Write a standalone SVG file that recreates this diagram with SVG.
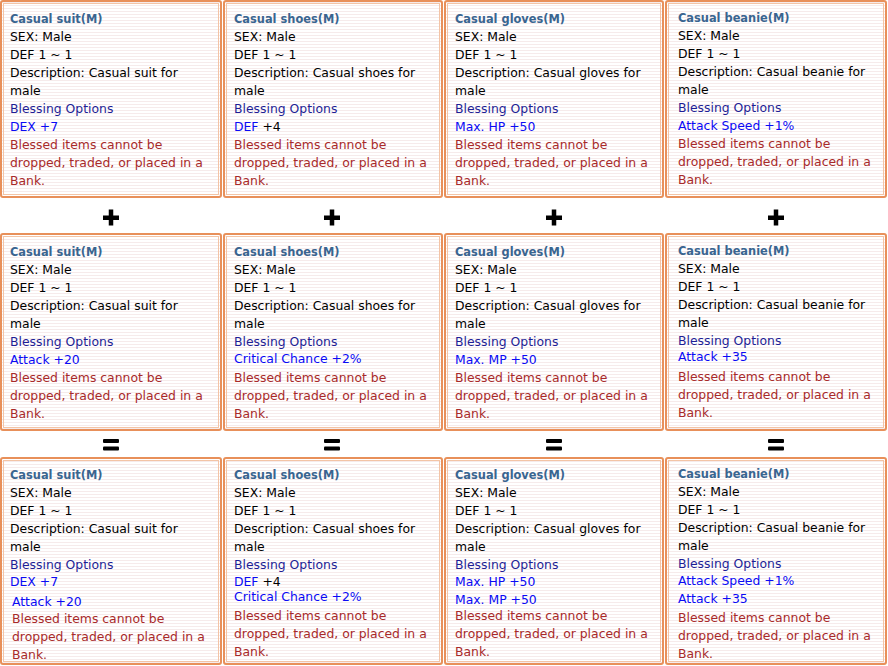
<svg xmlns="http://www.w3.org/2000/svg" width="888" height="666" viewBox="0 0 888 666">
  <style>
    text { font-family: "DejaVu Sans", Verdana, sans-serif; font-size: 12.4px; fill: #000; }
    .title { font-weight: bold; font-size: 11.4px; fill: #3A6590; }
    .opt { fill: #1E1E96; }
    .stat { fill: #0A0AF5; }
    .warn { fill: #A82A2A; }
    .frame { fill: url(#stripes); stroke: #E8905A; stroke-width: 2; }
    .inner { fill: none; stroke: #F3C4A6; stroke-width: 1; }
    .op { fill: #000; }
  </style>
  <defs>
    <pattern id="stripes" patternUnits="userSpaceOnUse" width="6" height="3">
      <rect width="6" height="3" fill="#FFFFFF"/>
      <rect y="2" width="6" height="1" fill="#F6EBEB"/>
    </pattern>
  </defs>

  <rect width="888" height="666" fill="#FFFFFF"/>

  <!-- Row 1 -->
  <g id="suit-a">
    <rect class="frame" x="1" y="1" width="220" height="196" rx="2"/>
    <rect class="inner" x="3.5" y="3.5" width="215" height="191"/>
    <text class="title" x="10" y="23">Casual suit(M)</text>
    <text x="10" y="41">SEX: Male</text>
    <text x="10" y="59">DEF 1 ~ 1</text>
    <text x="10" y="77">Description: Casual suit for</text>
    <text x="10" y="95">male</text>
    <text class="opt" x="10" y="113">Blessing Options</text>
    <text class="stat" x="10" y="131">DEX +7</text>
    <text class="warn" x="10" y="149">Blessed items cannot be</text>
    <text class="warn" x="10" y="167">dropped, traded, or placed in a</text>
    <text class="warn" x="10" y="185">Bank.</text>
  </g>
  <g id="shoes-a">
    <rect class="frame" x="224" y="1" width="218" height="196" rx="2"/>
    <rect class="inner" x="226.5" y="3.5" width="213" height="191"/>
    <text class="title" x="234" y="23">Casual shoes(M)</text>
    <text x="234" y="41">SEX: Male</text>
    <text x="234" y="59">DEF 1 ~ 1</text>
    <text x="234" y="77">Description: Casual shoes for</text>
    <text x="234" y="95">male</text>
    <text class="opt" x="234" y="113">Blessing Options</text>
    <text x="234" y="131"><tspan class="stat">DEF</tspan> +4</text>
    <text class="warn" x="234" y="149">Blessed items cannot be</text>
    <text class="warn" x="234" y="167">dropped, traded, or placed in a</text>
    <text class="warn" x="234" y="185">Bank.</text>
  </g>
  <g id="gloves-a">
    <rect class="frame" x="445" y="1" width="218" height="196" rx="2"/>
    <rect class="inner" x="447.5" y="3.5" width="213" height="191"/>
    <text class="title" x="455" y="23">Casual gloves(M)</text>
    <text x="455" y="41">SEX: Male</text>
    <text x="455" y="59">DEF 1 ~ 1</text>
    <text x="455" y="77">Description: Casual gloves for</text>
    <text x="455" y="95">male</text>
    <text class="opt" x="455" y="113">Blessing Options</text>
    <text class="stat" x="455" y="131">Max. HP +50</text>
    <text class="warn" x="455" y="149">Blessed items cannot be</text>
    <text class="warn" x="455" y="167">dropped, traded, or placed in a</text>
    <text class="warn" x="455" y="185">Bank.</text>
  </g>
  <g id="beanie-a">
    <rect class="frame" x="666" y="1" width="220" height="196" rx="2"/>
    <rect class="inner" x="668.5" y="3.5" width="215" height="191"/>
    <text class="title" x="678" y="22">Casual beanie(M)</text>
    <text x="678" y="40">SEX: Male</text>
    <text x="678" y="58">DEF 1 ~ 1</text>
    <text x="678" y="76">Description: Casual beanie for</text>
    <text x="678" y="94">male</text>
    <text class="opt" x="678" y="112">Blessing Options</text>
    <text class="stat" x="678" y="130">Attack Speed +1%</text>
    <text class="warn" x="678" y="148">Blessed items cannot be</text>
    <text class="warn" x="678" y="166">dropped, traded, or placed in a</text>
    <text class="warn" x="678" y="184">Bank.</text>
  </g>

  <!-- Row 2 -->
  <g id="suit-b">
    <rect class="frame" x="1" y="234" width="220" height="196" rx="2"/>
    <rect class="inner" x="3.5" y="236.5" width="215" height="191"/>
    <text class="title" x="10" y="256">Casual suit(M)</text>
    <text x="10" y="274">SEX: Male</text>
    <text x="10" y="292">DEF 1 ~ 1</text>
    <text x="10" y="310">Description: Casual suit for</text>
    <text x="10" y="328">male</text>
    <text class="opt" x="10" y="346">Blessing Options</text>
    <text class="stat" x="10" y="364">Attack +20</text>
    <text class="warn" x="10" y="382">Blessed items cannot be</text>
    <text class="warn" x="10" y="400">dropped, traded, or placed in a</text>
    <text class="warn" x="10" y="418">Bank.</text>
  </g>
  <g id="shoes-b">
    <rect class="frame" x="224" y="234" width="218" height="196" rx="2"/>
    <rect class="inner" x="226.5" y="236.5" width="213" height="191"/>
    <text class="title" x="234" y="256">Casual shoes(M)</text>
    <text x="234" y="274">SEX: Male</text>
    <text x="234" y="292">DEF 1 ~ 1</text>
    <text x="234" y="310">Description: Casual shoes for</text>
    <text x="234" y="328">male</text>
    <text class="opt" x="234" y="346">Blessing Options</text>
    <text class="stat" x="234" y="363">Critical Chance +2%</text>
    <text class="warn" x="234" y="382">Blessed items cannot be</text>
    <text class="warn" x="234" y="400">dropped, traded, or placed in a</text>
    <text class="warn" x="234" y="418">Bank.</text>
  </g>
  <g id="gloves-b">
    <rect class="frame" x="445" y="234" width="218" height="196" rx="2"/>
    <rect class="inner" x="447.5" y="236.5" width="213" height="191"/>
    <text class="title" x="455" y="256">Casual gloves(M)</text>
    <text x="455" y="274">SEX: Male</text>
    <text x="455" y="292">DEF 1 ~ 1</text>
    <text x="455" y="310">Description: Casual gloves for</text>
    <text x="455" y="328">male</text>
    <text class="opt" x="455" y="346">Blessing Options</text>
    <text class="stat" x="455" y="364">Max. MP +50</text>
    <text class="warn" x="455" y="382">Blessed items cannot be</text>
    <text class="warn" x="455" y="400">dropped, traded, or placed in a</text>
    <text class="warn" x="455" y="418">Bank.</text>
  </g>
  <g id="beanie-b">
    <rect class="frame" x="666" y="234" width="220" height="196" rx="2"/>
    <rect class="inner" x="668.5" y="236.5" width="215" height="191"/>
    <text class="title" x="678" y="255">Casual beanie(M)</text>
    <text x="678" y="273">SEX: Male</text>
    <text x="678" y="291">DEF 1 ~ 1</text>
    <text x="678" y="309">Description: Casual beanie for</text>
    <text x="678" y="327">male</text>
    <text class="opt" x="678" y="345">Blessing Options</text>
    <text class="stat" x="678" y="361">Attack +35</text>
    <text class="warn" x="678" y="381">Blessed items cannot be</text>
    <text class="warn" x="678" y="399">dropped, traded, or placed in a</text>
    <text class="warn" x="678" y="417">Bank.</text>
  </g>

  <!-- Row 3 -->
  <g id="suit-c">
    <rect class="frame" x="1" y="458" width="220" height="206" rx="2"/>
    <rect class="inner" x="3.5" y="460.5" width="215" height="201"/>
    <text class="title" x="10" y="479">Casual suit(M)</text>
    <text x="10" y="497">SEX: Male</text>
    <text x="10" y="515">DEF 1 ~ 1</text>
    <text x="10" y="533">Description: Casual suit for</text>
    <text x="10" y="551">male</text>
    <text class="opt" x="10" y="569">Blessing Options</text>
    <text class="stat" x="10" y="586">DEX +7</text>
    <text class="stat" x="12" y="606">Attack +20</text>
    <text class="warn" x="12" y="623">Blessed items cannot be</text>
    <text class="warn" x="12" y="641">dropped, traded, or placed in a</text>
    <text class="warn" x="12" y="659">Bank.</text>
  </g>
  <g id="shoes-c">
    <rect class="frame" x="224" y="458" width="218" height="206" rx="2"/>
    <rect class="inner" x="226.5" y="460.5" width="213" height="201"/>
    <text class="title" x="234" y="479">Casual shoes(M)</text>
    <text x="234" y="497">SEX: Male</text>
    <text x="234" y="515">DEF 1 ~ 1</text>
    <text x="234" y="533">Description: Casual shoes for</text>
    <text x="234" y="551">male</text>
    <text class="opt" x="234" y="569">Blessing Options</text>
    <text x="234" y="586"><tspan class="stat">DEF</tspan> +4</text>
    <text class="stat" x="234" y="601">Critical Chance +2%</text>
    <text class="warn" x="234" y="620">Blessed items cannot be</text>
    <text class="warn" x="234" y="638">dropped, traded, or placed in a</text>
    <text class="warn" x="234" y="656">Bank.</text>
  </g>
  <g id="gloves-c">
    <rect class="frame" x="445" y="458" width="218" height="206" rx="2"/>
    <rect class="inner" x="447.5" y="460.5" width="213" height="201"/>
    <text class="title" x="455" y="479">Casual gloves(M)</text>
    <text x="455" y="497">SEX: Male</text>
    <text x="455" y="515">DEF 1 ~ 1</text>
    <text x="455" y="533">Description: Casual gloves for</text>
    <text x="455" y="551">male</text>
    <text class="opt" x="455" y="569">Blessing Options</text>
    <text class="stat" x="455" y="586">Max. HP +50</text>
    <text class="stat" x="455" y="604">Max. MP +50</text>
    <text class="warn" x="455" y="620">Blessed items cannot be</text>
    <text class="warn" x="455" y="638">dropped, traded, or placed in a</text>
    <text class="warn" x="455" y="656">Bank.</text>
  </g>
  <g id="beanie-c">
    <rect class="frame" x="666" y="458" width="220" height="206" rx="2"/>
    <rect class="inner" x="668.5" y="460.5" width="215" height="201"/>
    <text class="title" x="678" y="478">Casual beanie(M)</text>
    <text x="678" y="496">SEX: Male</text>
    <text x="678" y="514">DEF 1 ~ 1</text>
    <text x="678" y="532">Description: Casual beanie for</text>
    <text x="678" y="550">male</text>
    <text class="opt" x="678" y="568">Blessing Options</text>
    <text class="stat" x="678" y="585">Attack Speed +1%</text>
    <text class="stat" x="678" y="603">Attack +35</text>
    <text class="warn" x="678" y="622">Blessed items cannot be</text>
    <text class="warn" x="678" y="640">dropped, traded, or placed in a</text>
    <text class="warn" x="678" y="658">Bank.</text>
  </g>

  <!-- Operators between the rows -->
  <g id="operators">
    <g id="plus-row">
      <path class="op" d="M103 215.5h16v4.5h-16z M108.75 209.5h4.5v16h-4.5z"/>
      <path class="op" d="M324 215.5h16v4.5h-16z M329.75 209.5h4.5v16h-4.5z"/>
      <path class="op" d="M546 215.5h16v4.5h-16z M551.75 209.5h4.5v16h-4.5z"/>
      <path class="op" d="M768 215.5h16v4.5h-16z M773.75 209.5h4.5v16h-4.5z"/>
    </g>
    <g id="equals-row">
      <rect class="op" x="103" y="439" width="16" height="4" rx="1"/>
      <rect class="op" x="103" y="446.5" width="16" height="4" rx="1"/>
      <rect class="op" x="324" y="439" width="16" height="4" rx="1"/>
      <rect class="op" x="324" y="446.5" width="16" height="4" rx="1"/>
      <rect class="op" x="546" y="439" width="16" height="4" rx="1"/>
      <rect class="op" x="546" y="446.5" width="16" height="4" rx="1"/>
      <rect class="op" x="768" y="439" width="16" height="4" rx="1"/>
      <rect class="op" x="768" y="446.5" width="16" height="4" rx="1"/>
    </g>
  </g>
</svg>
